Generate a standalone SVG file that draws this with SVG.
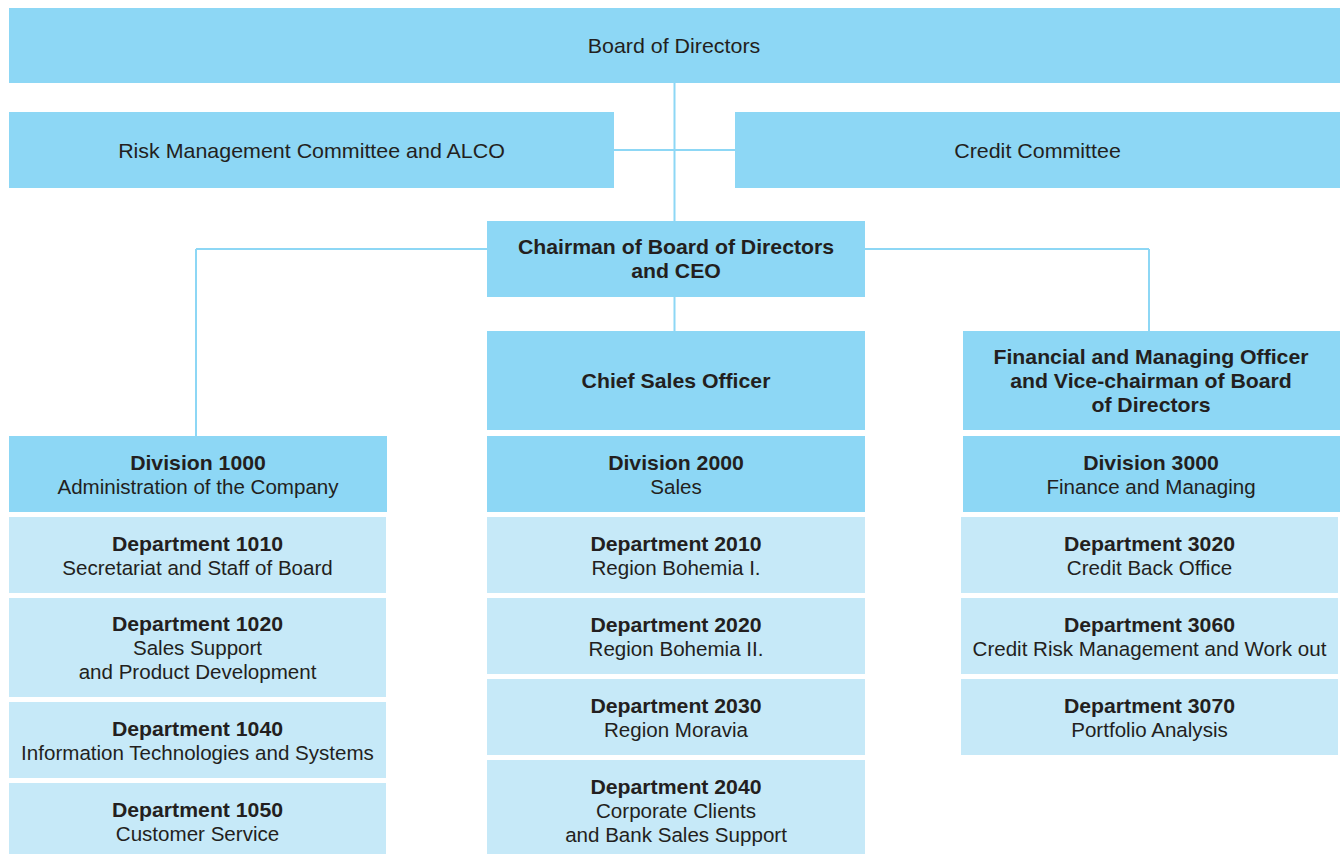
<svg xmlns="http://www.w3.org/2000/svg" width="1340" height="854" viewBox="0 0 1340 854">
<style>
.d{fill:#8dd7f5}
.l{fill:#c6e9f8}
text{font-family:"Liberation Sans",Arial,sans-serif;font-size:19.5px;fill:#231f20;text-anchor:middle}
.t{font-size:20.3px}
.b{font-weight:bold}
.c{stroke:#8dd7f5;stroke-width:2;fill:none}
</style>
<rect width="1340" height="854" fill="#ffffff"/>
<g id="connectors">
<path class="c" d="M674.5 83V221M614 150H735M674.5 297V331M196 249H1149M196 249V436M1149 249V331"/>
</g>
<g id="board"><rect class="d" x="9" y="8" width="1331" height="75"/><text class="t" transform="translate(674,53.3) scale(1.055,1)">Board of Directors</text></g>
<g id="risk"><rect class="d" x="9" y="112" width="605" height="76"/><text class="t" transform="translate(311.5,158.3) scale(1.055,1)">Risk Management Committee and ALCO</text></g>
<g id="credit"><rect class="d" x="735" y="112" width="605" height="76"/><text class="t" transform="translate(1037.5,158.3) scale(1.055,1)">Credit Committee</text></g>
<g id="chairman"><rect class="d" x="487" y="221" width="378" height="76"/><text class="b" transform="translate(676,254) scale(1.09,1)">Chairman of Board of Directors</text><text class="b" transform="translate(676,278) scale(1.09,1)">and CEO</text></g>
<g id="cso"><rect class="d" x="487" y="331" width="378" height="99"/><text class="b" transform="translate(676,388) scale(1.09,1)">Chief Sales Officer</text></g>
<g id="fmo"><rect class="d" x="963" y="331" width="377" height="99"/><text class="b" transform="translate(1151,364) scale(1.09,1)">Financial and Managing Officer</text><text class="b" transform="translate(1151,388) scale(1.09,1)">and Vice-chairman of Board</text><text class="b" transform="translate(1151,412) scale(1.09,1)">of Directors</text></g>
<g id="div1000"><rect class="d" x="9" y="436" width="378" height="76"/><text class="b" transform="translate(198,469.5) scale(1.09,1)">Division 1000</text><text transform="translate(198,493.5) scale(1.055,1)">Administration of the Company</text></g>
<g id="dep1010"><rect class="l" x="9" y="517" width="377" height="76"/><text class="b" transform="translate(197.5,550.5) scale(1.09,1)">Department 1010</text><text transform="translate(197.5,574.5) scale(1.055,1)">Secretariat and Staff of Board</text></g>
<g id="dep1020"><rect class="l" x="9" y="598" width="377" height="99"/><text class="b" transform="translate(197.5,631) scale(1.09,1)">Department 1020</text><text transform="translate(197.5,655) scale(1.055,1)">Sales Support</text><text transform="translate(197.5,679) scale(1.055,1)">and Product Development</text></g>
<g id="dep1040"><rect class="l" x="9" y="702" width="377" height="76"/><text class="b" transform="translate(197.5,735.5) scale(1.09,1)">Department 1040</text><text transform="translate(197.5,759.5) scale(1.055,1)">Information Technologies and Systems</text></g>
<g id="dep1050"><rect class="l" x="9" y="783" width="377" height="71"/><text class="b" transform="translate(197.5,817) scale(1.09,1)">Department 1050</text><text transform="translate(197.5,841) scale(1.055,1)">Customer Service</text></g>
<g id="div2000"><rect class="d" x="487" y="436" width="378" height="76"/><text class="b" transform="translate(676,469.5) scale(1.09,1)">Division 2000</text><text transform="translate(676,493.5) scale(1.055,1)">Sales</text></g>
<g id="dep2010"><rect class="l" x="487" y="517" width="378" height="76"/><text class="b" transform="translate(676,550.5) scale(1.09,1)">Department 2010</text><text transform="translate(676,574.5) scale(1.055,1)">Region Bohemia I.</text></g>
<g id="dep2020"><rect class="l" x="487" y="598" width="378" height="76"/><text class="b" transform="translate(676,631.5) scale(1.09,1)">Department 2020</text><text transform="translate(676,655.5) scale(1.055,1)">Region Bohemia II.</text></g>
<g id="dep2030"><rect class="l" x="487" y="679" width="378" height="76"/><text class="b" transform="translate(676,712.5) scale(1.09,1)">Department 2030</text><text transform="translate(676,736.5) scale(1.055,1)">Region Moravia</text></g>
<g id="dep2040"><rect class="l" x="487" y="760" width="378" height="94"/><text class="b" transform="translate(676,794) scale(1.09,1)">Department 2040</text><text transform="translate(676,818) scale(1.055,1)">Corporate Clients</text><text transform="translate(676,842) scale(1.055,1)">and Bank Sales Support</text></g>
<g id="div3000"><rect class="d" x="963" y="436" width="377" height="76"/><text class="b" transform="translate(1151,469.5) scale(1.09,1)">Division 3000</text><text transform="translate(1151,493.5) scale(1.055,1)">Finance and Managing</text></g>
<g id="dep3020"><rect class="l" x="961" y="517" width="377" height="76"/><text class="b" transform="translate(1149.5,550.5) scale(1.09,1)">Department 3020</text><text transform="translate(1149.5,574.5) scale(1.055,1)">Credit Back Office</text></g>
<g id="dep3060"><rect class="l" x="961" y="598" width="377" height="76"/><text class="b" transform="translate(1149.5,631.5) scale(1.09,1)">Department 3060</text><text transform="translate(1149.5,655.5) scale(1.055,1)">Credit Risk Management and Work out</text></g>
<g id="dep3070"><rect class="l" x="961" y="679" width="377" height="76"/><text class="b" transform="translate(1149.5,712.5) scale(1.09,1)">Department 3070</text><text transform="translate(1149.5,736.5) scale(1.055,1)">Portfolio Analysis</text></g>
</svg>
